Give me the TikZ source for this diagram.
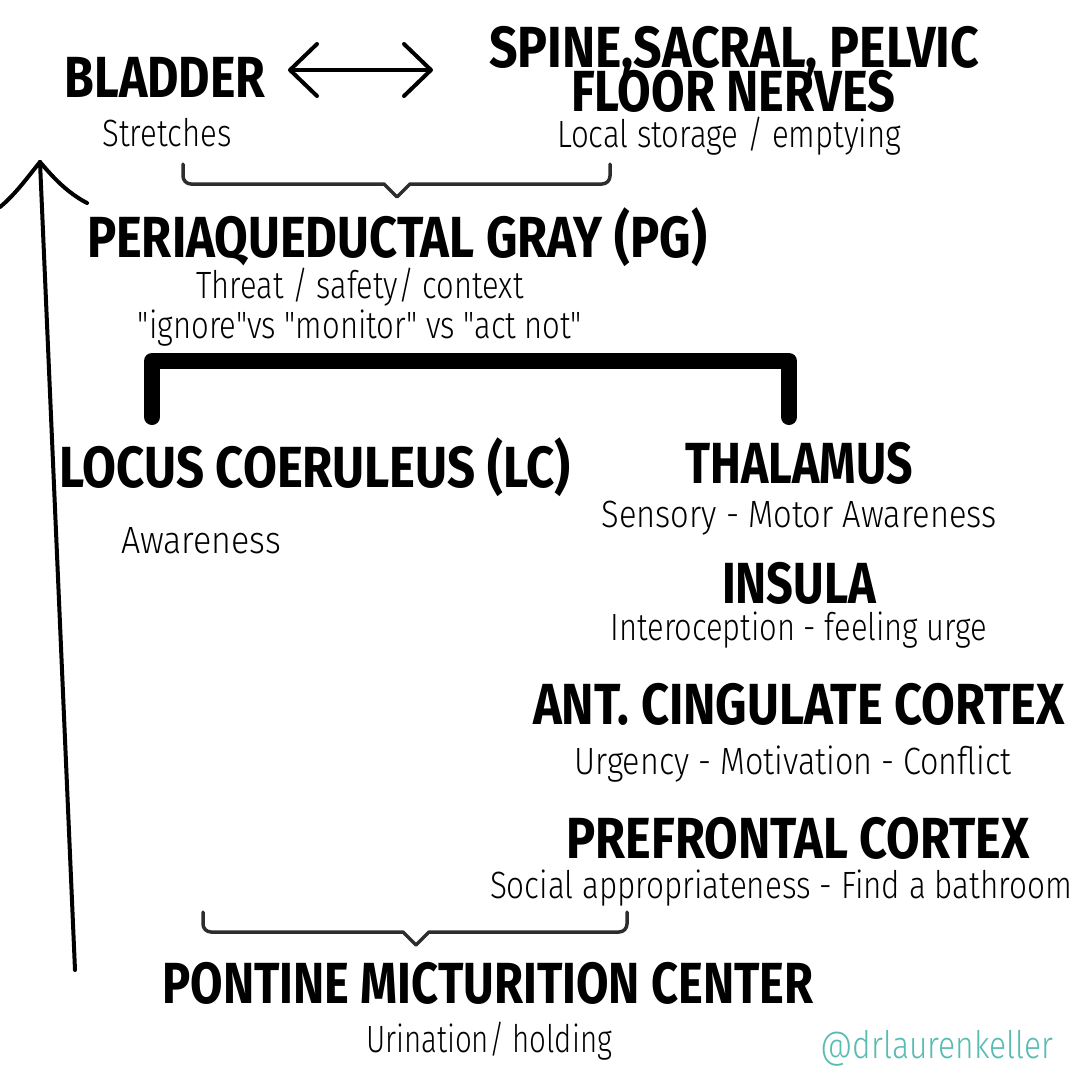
\documentclass[tikz,border=0pt]{standalone}
\usepackage{fontspec}
\usepackage{graphicx}
\usetikzlibrary{arrows.meta}
\newfontfamily\titlefont{Fira Sans}
\newfontfamily\subfont{Fira Sans Light}
\definecolor{teal2}{RGB}{88,188,178}
\definecolor{bracegray}{RGB}{45,45,45}
\newsavebox\fitbox
\newcommand\fitto[2]{\sbox\fitbox{#2}\pgfmathsetmacro\fitsx{#1/\wd\fitbox}\scalebox{\fitsx}[1]{\usebox\fitbox}}
\tikzset{
  tit/.style={anchor=base, inner sep=0pt, font=\titlefont\bfseries\fontsize{58}{60}\selectfont},
  sub/.style={anchor=base, inner sep=0pt, font=\subfont\fontsize{38}{40}\selectfont},
  brace/.style={draw=bracegray, line width=3.5pt, line cap=round, line join=round},
  thin arrow/.style={line width=4pt, line cap=round, line join=round},
}
\begin{document}
\begin{tikzpicture}[x=1pt,y=1pt]
\useasboundingbox[fill=white] (0,0) rectangle (1080,-1080);

% titles and subtitles
\node[tit] (bladder) at (165,-97) {\fitto{201}{BLADDER}};
\node[sub] (stretch) at (167,-146) {\fitto{129}{Stretches}};
\node[tit] (spine1) at (734,-67) {\fitto{490}{SPINE,SACRAL, PELVIC}};
\node[tit] (spine2) at (733,-111) {\fitto{324}{FLOOR NERVES}};
\node[sub] (local) at (729,-147) {\fitto{344}{Local storage / emptying}};
\node[tit] (pg) at (397,-257) {\fitto{620}{PERIAQUEDUCTAL GRAY (PG)}};
\node[sub] (threat) at (360,-298) {\fitto{327}{Threat / safety/ context}};
\node[sub] (ignore) at (360,-338) {\fitto{444}{"ignore"vs "monitor" vs "act not"}};
\node[tit] (lc) at (315,-487) {\fitto{511}{LOCUS COERULEUS (LC)}};
\node[sub] (aware) at (201,-553) {\fitto{160}{Awareness}};
\node[tit] (thal) at (799,-483) {\fitto{227}{THALAMUS}};
\node[sub] (sensory) at (799,-527) {\fitto{395}{Sensory - Motor Awareness}};
\node[tit] (insula) at (799,-603) {\fitto{154}{INSULA}};
\node[sub] (intero) at (799,-640) {\fitto{377}{Interoception - feeling urge}};
\node[tit] (acc) at (799,-724) {\fitto{532}{ANT. CINGULATE CORTEX}};
\node[sub] (urgency) at (793,-774) {\fitto{437}{Urgency - Motivation - Conflict}};
\node[tit] (pfc) at (798,-858) {\fitto{463}{PREFRONTAL CORTEX}};
\node[sub] (social) at (781,-898) {\fitto{582}{Social appropriateness - Find a bathroom}};
\node[tit] (pmc) at (488,-1003) {\fitto{651}{PONTINE MICTURITION CENTER}};
\node[sub] (urin) at (489,-1052) {\fitto{246}{Urination/ holding}};
\node[sub, text=teal2] (handle) at (937,-1058) {\fitto{233}{@drlaurenkeller}};

% double arrow bladder <-> spine
\coordinate (dL) at (288,-70);
\coordinate (dR) at (433,-70);
\draw[thin arrow, {Straight Barb[length=27pt,width=52pt,round]}-{Straight Barb[length=27pt,width=52pt,round]}] (dL) -- (dR);

% brace 1 (bladder + spine -> PG)
\draw[brace] (183,-164) -- (183,-176) arc(180:270:8) -- (384,-184) -- (397,-197) -- (410,-184) -- (602,-184) arc(270:360:8) -- (610,-164);

% thick bracket from PG to LC and thalamus
\coordinate (bkL) at (152,-417);
\coordinate (bkR) at (789,-417);
\draw[line width=16pt, line cap=round, line join=round] (bkL) -- (152,-361) -- (789,-361) -- (bkR);

% brace 2 (cortex -> PMC)
\draw[brace] (203,-912) -- (203,-924) arc(180:270:8) -- (403,-932) -- (416,-945) -- (429,-932) -- (619,-932) arc(270:360:8) -- (627,-912);

% long upward arrow
\coordinate (atip) at (40,-162);
\coordinate (abot) at (75,-970);
\draw[thin arrow] (abot) -- (atip);
\draw[thin arrow] (atip) .. controls (30,-174) and (16,-194) .. (0,-207);
\draw[thin arrow] (atip) .. controls (52,-176) and (66,-192) .. (87,-203);
\end{tikzpicture}
\end{document}
